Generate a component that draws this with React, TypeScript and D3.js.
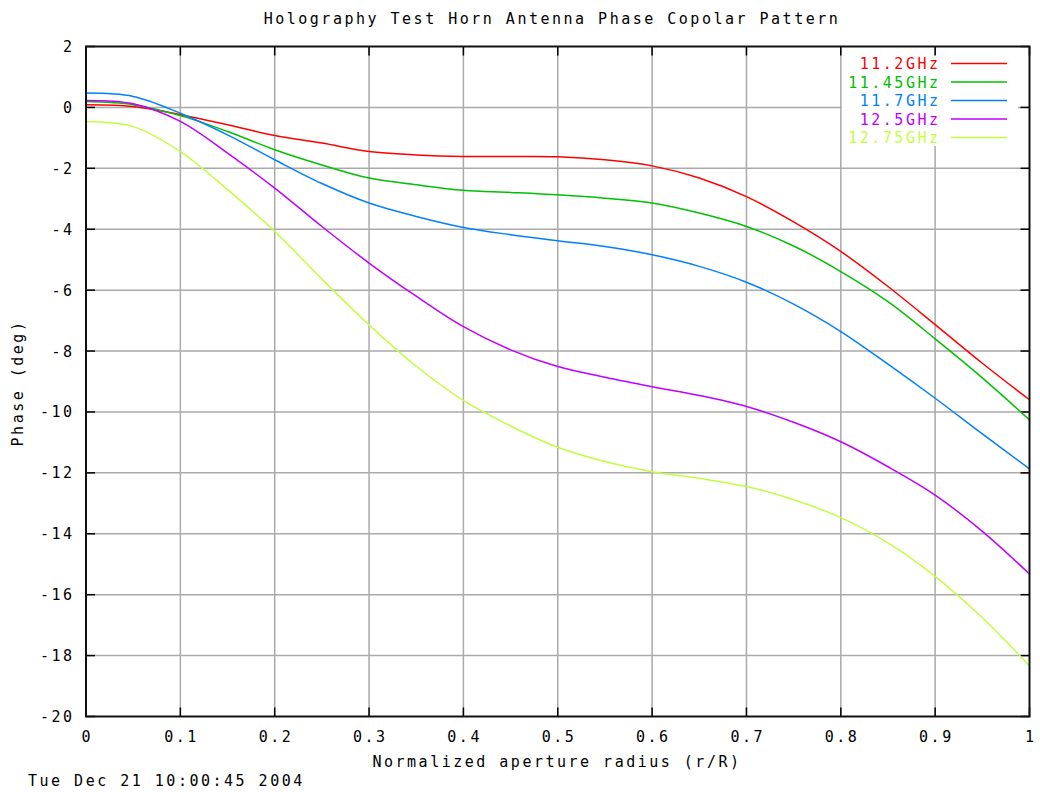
import * as d3 from "d3";
import { useEffect, useRef } from "react";

const RADIUS = [0, 0.05, 0.1, 0.15, 0.2, 0.25, 0.3, 0.35, 0.4, 0.45, 0.5, 0.55, 0.6, 0.65, 0.7, 0.75, 0.8, 0.85, 0.9, 0.95, 1];

const PHASE_11_2 = [0.09, 0.03, -0.24, -0.57, -0.92, -1.17, -1.45, -1.56, -1.61, -1.61, -1.62, -1.72, -1.92, -2.32, -2.93, -3.76, -4.73, -5.88, -7.13, -8.4, -9.6];
const PHASE_11_45 = [0.19, 0.09, -0.27, -0.79, -1.39, -1.89, -2.32, -2.54, -2.72, -2.79, -2.87, -2.98, -3.14, -3.47, -3.91, -4.55, -5.39, -6.38, -7.6, -8.88, -10.26];
const PHASE_11_7 = [0.47, 0.36, -0.19, -0.9, -1.72, -2.5, -3.14, -3.58, -3.94, -4.18, -4.38, -4.57, -4.84, -5.22, -5.74, -6.46, -7.36, -8.43, -9.55, -10.72, -11.87];
const PHASE_12_5 = [0.23, 0.12, -0.46, -1.5, -2.65, -3.91, -5.11, -6.2, -7.2, -7.96, -8.51, -8.86, -9.17, -9.46, -9.82, -10.34, -10.98, -11.8, -12.73, -13.92, -15.32];
const PHASE_12_75 = [-0.46, -0.63, -1.45, -2.7, -4.07, -5.64, -7.14, -8.5, -9.62, -10.46, -11.16, -11.63, -11.96, -12.18, -12.45, -12.88, -13.47, -14.3, -15.4, -16.76, -18.34];

const SERIES_NAMES = ["11.2GHz", "11.45GHz", "11.7GHz", "12.5GHz", "12.75GHz"];
const SERIES_COLORS = ["#ff0000", "#00c000", "#0080ff", "#c000ff", "#c0ff40"];
const SERIES_VALUES = [PHASE_11_2, PHASE_11_45, PHASE_11_7, PHASE_12_5, PHASE_12_75];

const X_TICKS = [0, 0.1, 0.2, 0.3, 0.4, 0.5, 0.6, 0.7, 0.8, 0.9, 1];
const X_TICK_LABELS = ["0", "0.1", "0.2", "0.3", "0.4", "0.5", "0.6", "0.7", "0.8", "0.9", "1"];
const Y_TICKS = [2, 0, -2, -4, -6, -8, -10, -12, -14, -16, -18, -20];

const W = 1040;
const H = 792;
const FONT = "'DejaVu Sans Mono', monospace";

export default function App() {
  const svgRef = useRef<SVGSVGElement>(null);

  useEffect(() => {
    const svg = d3.select(svgRef.current);
    svg.selectAll("*").remove();

    const margin = { top: 46.5, right: 10.5, bottom: 75.5, left: 86 };
    const iw = W - margin.left - margin.right;
    const ih = H - margin.top - margin.bottom;

    const x = d3.scaleLinear().domain([0, 1]).range([0, iw]);
    const y = d3.scaleLinear().domain([-20, 2]).range([ih, 0]);

    svg.append("rect").attr("width", W).attr("height", H).attr("fill", "#fff");

    const g = svg.append("g").attr("transform", `translate(${margin.left},${margin.top})`);

    const text = (sel: d3.Selection<any, any, any, any>) =>
      sel
        .attr("font-family", FONT)
        .attr("font-size", 15)
        .attr("letter-spacing", 2.5)
        .attr("fill", "#000");

    // grid
    g.append("g")
      .selectAll("line")
      .data(X_TICKS.slice(1, -1))
      .join("line")
      .attr("x1", (d) => x(d))
      .attr("x2", (d) => x(d))
      .attr("y1", 0)
      .attr("y2", ih)
      .attr("stroke", "#aaaaaa")
      .attr("stroke-width", 1.5);
    g.append("g")
      .selectAll("line")
      .data(Y_TICKS.slice(1, -1))
      .join("line")
      .attr("x1", 0)
      .attr("x2", iw)
      .attr("y1", (d) => y(d))
      .attr("y2", (d) => y(d))
      .attr("stroke", "#aaaaaa")
      .attr("stroke-width", 1.5);

    // key area blanks the grid
    g.append("rect")
      .attr("x", 842 - margin.left)
      .attr("y", 55 - margin.top)
      .attr("width", 176)
      .attr("height", 91)
      .attr("fill", "#fff");

    // ticks
    const tl = 9;
    const ticks = g.append("g").attr("stroke", "#000").attr("stroke-width", 1.5);
    X_TICKS.forEach((t) => {
      ticks.append("line").attr("x1", x(t)).attr("x2", x(t)).attr("y1", ih).attr("y2", ih - tl);
      ticks.append("line").attr("x1", x(t)).attr("x2", x(t)).attr("y1", 0).attr("y2", tl);
    });
    Y_TICKS.forEach((t) => {
      ticks.append("line").attr("x1", 0).attr("x2", tl).attr("y1", y(t)).attr("y2", y(t));
      ticks.append("line").attr("x1", iw).attr("x2", iw - tl).attr("y1", y(t)).attr("y2", y(t));
    });

    // curves
    const line = d3
      .line<number>()
      .x((_, i) => x(RADIUS[i]))
      .y((d) => y(d))
      .curve(d3.curveCatmullRom);

    SERIES_VALUES.forEach((vals, i) => {
      g.append("path")
        .attr("d", line(vals))
        .attr("fill", "none")
        .attr("stroke", SERIES_COLORS[i])
        .attr("stroke-width", 1.5);
    });

    // border
    g.append("rect")
      .attr("width", iw)
      .attr("height", ih)
      .attr("fill", "none")
      .attr("stroke", "#111")
      .attr("stroke-width", 2);

    // tick labels
    X_TICKS.forEach((t, i) => {
      g.append("text")
        .call(text)
        .attr("x", x(t) + 1.25)
        .attr("y", ih + 25)
        .attr("text-anchor", "middle")
        .text(X_TICK_LABELS[i]);
    });
    Y_TICKS.forEach((t) => {
      g.append("text")
        .call(text)
        .attr("x", -11.5)
        .attr("y", y(t) + 5.5)
        .attr("text-anchor", "end")
        .text(`${t}`);
    });

    // legend
    SERIES_NAMES.forEach((name, i) => {
      const ly = 63.5 + i * 18.5;
      svg.append("text")
        .call(text)
        .attr("x", 940.5)
        .attr("y", ly + 5.5)
        .attr("text-anchor", "end")
        .attr("fill", SERIES_COLORS[i])
        .text(name);
      svg.append("line")
        .attr("x1", 951)
        .attr("x2", 1007)
        .attr("y1", ly)
        .attr("y2", ly)
        .attr("stroke", SERIES_COLORS[i])
        .attr("stroke-width", 1.5);
    });

    // titles
    svg.append("text")
      .call(text)
      .attr("x", 552)
      .attr("y", 24)
      .attr("text-anchor", "middle")
      .text("Holography Test Horn Antenna Phase Copolar Pattern");

    svg.append("text")
      .call(text)
      .attr("x", 557)
      .attr("y", 767)
      .attr("text-anchor", "middle")
      .text("Normalized aperture radius (r/R)");

    svg.append("text")
      .call(text)
      .attr("transform", "translate(23,383) rotate(-90)")
      .attr("text-anchor", "middle")
      .text("Phase (deg)");

    svg.append("text")
      .call(text)
      .attr("x", 28)
      .attr("y", 786)
      .text("Tue Dec 21 10:00:45 2004");
  }, []);

  return (
    <svg
      ref={svgRef}
      width={W}
      height={H}
      style={{ position: "absolute", left: 0, top: 0, display: "block" }}
    />
  );
}
